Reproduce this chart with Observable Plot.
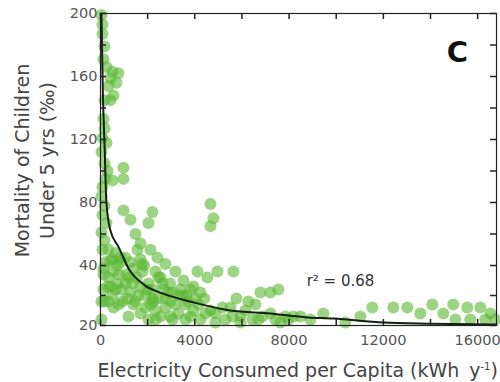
<!DOCTYPE html>
<html><head><meta charset="utf-8">
<script src="https://cdn.jsdelivr.net/npm/d3@7"></script>
<script src="https://cdn.jsdelivr.net/npm/@observablehq/plot@0.6"></script>
<style>body{margin:0;background:#fff} svg{font-family:"DejaVu Sans"}</style>
</head><body><div id="chart"></div>
<script>
// Electricity consumed per capita (kWh/yr) and under-5 mortality (per mille)
const electricity = [42,85,85,170,127,254,509,678,339,551,170,424,127,170,85,254,42,170,297,212,85,42,170,85,254,42,170,85,509,975,975,975,1272,2205,2035,1484,1696,2120,2417,848,636,424,1060,4664,4791,4664,551,1399,2332,2459,4113,4537,4961,5639,212,848,339,763,1060,636,1272,933,1484,1696,1908,2120,2459,2756,2968,3307,3604,3816,2544,1696,339,1187,1526,2035,2671,3053,3477,4028,3943,4240,424,127,127,763,1357,1908,2332,3053,3604,2756,2205,6784,7208,7547,5766,6275,4240,4876,5300,5936,6445,6869,7420,7844,6572,8183,8480,9455,11024,11533,12423,13017,13568,14077,14543,14967,15561,16112,16536,15052,15688,16324,16748,8904,10388,4664,5512,6148,7208,4876,5936,7632,42,42,
  763,424,127,297,170,509,721,890,1102,1145,1399,1611,1781,1993,2205,2332,2629,2883,3180,3392,3731,3943,4155,2968,2035,551,509,339,721,1272,1696,1569,2756,3180,3519,3816,4452,5597,6699,7971,5173,
  1850,2550,2950,3350,1200,1750,2250,3650,4400];
const mortality = [199,193,187,179,171,166,163,156,154,148,145,159,133,127,121,118,112,105,100,95,90,84,78,72,67,61,56,50,94,102,95,75,69,74,67,60,54,50,45,45,48,43,45,79,70,65,38,39,38,36,38,36,38,38,42,42,36,37,34,32,31,28,28,33,30,27,29,26,28,24,27,23,23,24,28,23,36,34,32,31,30,29,33,31,33,32,37,27,34,26,22,22,22,29,32,31,31,32,29,28,22,24,22,23,22,23,22,23,27,23,23,24,23,26,26,26,24,27,24,27,26,26,24,22,22,22,22,22,21,25,26,25,24,21,21,21,28,22,
  162,145,39,33,28,30,34,32,37,29,27,30,38,32,29,25,34,31,27,32,28,25,27,23,22,26,44,50,40,42,44,50,41,38,35,32,24,23,22,22,26,
  40,36,34,30,36,41,28,30,29];
// fitted curve (r2 = 0.68)
const fitElectricity = [40,100,180,250,424,760,1190,1900,2630,3940,5500,7200,8780,9880,12000,14000,16800];
const fitMortality = [200,150,113,80,62,52,39,33.3,30.7,27.7,25,24,22.7,22.3,21,20.6,20.3];
const xTickMarks = [0,2000,4000,6000,8000,10000,12000,14000,16000];
const xTickLabels = [0,4000,8000,12000,16000];
const yTickMarks = [20,30,40,60,80,100,120,140,160,180,200];
const yTickLabels = [20,40,80,120,160,200];
const xTitleMain = "Electricity Consumed per Capita (kWh\u2009 y";
const xTitleSup = "-1";
const xTitleEnd = ")";
const yTitle = "Mortality of Children\nUnder 5 yrs (\u2030)";

const points = electricity.map((x, i) => ({x, y: mortality[i]}));
const fit = fitElectricity.map((x, i) => ({x, y: fitMortality[i]}));
const tickCol = "#555";
const axisCol = "#222";
const xTitle = xTitleMain + xTitleSup + xTitleEnd;

const chart = Plot.plot({
  width: 500, height: 382,
  marginLeft: 100, marginRight: 4, marginTop: 13, marginBottom: 57,
  style: {fontFamily: "DejaVu Sans", background: "white"},
  x: {type: "linear", domain: [0, 16800], label: null},
  y: {type: "linear", domain: [20, 40, 200], range: [325, 265, 13], label: null},
  marks: [
    Plot.dot(points, {x: "x", y: "y", r: 6, fill: "#5ab832", fillOpacity: 0.6, stroke: null, imageFilter: "blur(0.7px)"}),
    Plot.line(fit, {x: "x", y: "y", stroke: "#142014", strokeWidth: 2, curve: "monotone-x"}),
    Plot.frame({stroke: axisCol, strokeWidth: 1.2}),
    Plot.tickX(xTickMarks, {x: d => d, insetTop: 306, stroke: axisCol, strokeWidth: 1.5}),
    Plot.tickX(xTickMarks, {x: d => d, insetBottom: 306, stroke: axisCol, strokeWidth: 1.5}),
    Plot.tickY(yTickMarks, {y: d => d, insetRight: 390, stroke: axisCol, strokeWidth: 1.5}),
    Plot.tickY(yTickMarks, {y: d => d, insetLeft: 390, stroke: axisCol, strokeWidth: 1.5}),
    Plot.axisX({ticks: xTickLabels, tickSize: 0, tickPadding: 9, tickFormat: d3.format("d"), label: null, fontSize: 14.5, fill: tickCol}),
    Plot.axisY({ticks: yTickLabels, tickSize: 0, tickPadding: 3, tickFormat: d3.format("d"), label: null, fontSize: 14.5, fill: tickCol}),
    Plot.text([xTitle], {frameAnchor: "bottom-left", dx: -3, dy: 45, textAnchor: "start", lineAnchor: "middle", fontSize: 19, fill: "#444"}),
    Plot.text([yTitle], {frameAnchor: "left", dx: -67, dy: -9, rotate: -90, textAnchor: "middle", lineAnchor: "middle", lineHeight: 1.3, fontSize: 19, fill: "#444"}),
    Plot.text(["C"], {frameAnchor: "top-right", dx: -39, dy: 39, textAnchor: "middle", lineAnchor: "middle", fontSize: 29, fontWeight: "bold", fill: "#111"}),
    Plot.text(["r\u00B2 = 0.68"], {frameAnchor: "top-left", dx: 240, dy: 268, textAnchor: "middle", lineAnchor: "middle", fontSize: 15, fill: "#333"})
  ]
});
// render the "-1" of y^-1 as a small superscript
const ns = "http://www.w3.org/2000/svg";
const t = [...chart.querySelectorAll("text")].find(e => e.textContent === xTitle);
if (t) {
  t.textContent = xTitleMain;
  const sup = document.createElementNS(ns, "tspan");
  sup.setAttribute("font-size", "10");
  sup.setAttribute("dy", "-7");
  sup.textContent = xTitleSup;
  const end = document.createElementNS(ns, "tspan");
  end.setAttribute("dy", "7");
  end.textContent = xTitleEnd;
  t.appendChild(sup);
  t.appendChild(end);
}
document.getElementById("chart").appendChild(chart);
</script>
</body></html>
